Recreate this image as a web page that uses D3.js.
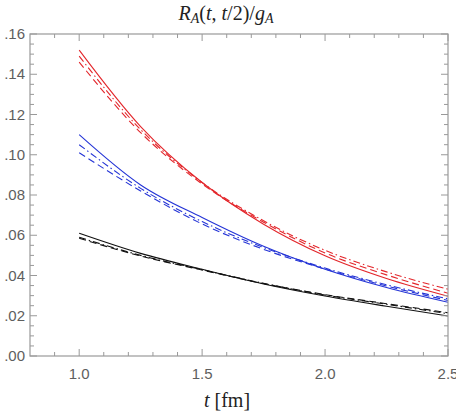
<!DOCTYPE html>
<html>
<head>
<meta charset="utf-8">
<style>
body { margin: 0; background: #fff; }
.tick-label { font-family: "Liberation Sans", Arial, sans-serif; font-size: 15px; fill: #5e5e5e; }
.serif { font-family: "Liberation Serif", "Times New Roman", serif; font-size: 20px; fill: #222; }
</style>
</head>
<body>
<svg width="456" height="412"></svg>
<script src="https://d3js.org/d3.v7.min.js"></script>
<script>
// sample times (fm)
var tVals = [1.0, 1.25, 1.5, 1.75, 2.0, 2.25, 2.5];

var redSolid   = [0.152, 0.114, 0.0862, 0.0655, 0.0498, 0.0385, 0.0297];
var redDashed  = [0.146, 0.111, 0.0855, 0.0665, 0.0512, 0.0403, 0.0312];
var redDotDash = [0.149, 0.1125, 0.0862, 0.0672, 0.0525, 0.0418, 0.0332];

var blueSolid   = [0.110, 0.0850, 0.0688, 0.0545, 0.0431, 0.0340, 0.0267];
var blueDashed  = [0.101, 0.0820, 0.0656, 0.0530, 0.0432, 0.0348, 0.0276];
var blueDotDash = [0.105, 0.0833, 0.0668, 0.0539, 0.0437, 0.0354, 0.0284];

var blackSolid   = [0.0610, 0.0510, 0.0431, 0.0358, 0.0298, 0.0247, 0.0199];
var blackDashed  = [0.0585, 0.0497, 0.0427, 0.0360, 0.0305, 0.0260, 0.0215];
var blackDotDash = [0.0590, 0.0500, 0.0429, 0.0361, 0.0303, 0.0257, 0.0210];

var xTickLabels = ["1.0", "1.5", "2.0", "2.5"];
var yTickLabels = [".00", ".02", ".04", ".06", ".08", ".10", ".12", ".14", ".16"];

var svg = d3.select("svg");
var pLeft = 30, pRight = 448, pTop = 34, pBottom = 356;

var x = d3.scaleLinear().domain([0.8, 2.5]).range([pLeft, pRight]);
var y = d3.scaleLinear().domain([0, 0.16]).range([pBottom, pTop]);

var red = "#e3262b", blue = "#2434d6", black = "#111";

var series = [
  {v: redSolid, c: red, dash: null},
  {v: redDashed, c: red, dash: "7,4"},
  {v: redDotDash, c: red, dash: "7,3,1.5,3"},
  {v: blueSolid, c: blue, dash: null},
  {v: blueDashed, c: blue, dash: "7,4"},
  {v: blueDotDash, c: blue, dash: "7,3,1.5,3"},
  {v: blackSolid, c: black, dash: null},
  {v: blackDashed, c: black, dash: "7,4"},
  {v: blackDotDash, c: black, dash: "7,3,1.5,3"}
];

svg.append("defs").append("clipPath").attr("id", "clip")
  .append("rect").attr("x", pLeft).attr("y", pTop).attr("width", pRight - pLeft).attr("height", pBottom - pTop);

var line = d3.line()
  .x(function(d) { return x(d[0]); })
  .y(function(d) { return y(d[1]); })
  .curve(d3.curveMonotoneX);

svg.append("g").attr("clip-path", "url(#clip)")
  .selectAll("path").data(series).enter().append("path")
    .attr("d", function(s) { return line(tVals.map(function(t, i) { return [t, s.v[i]]; })); })
    .attr("fill", "none")
    .attr("stroke", function(s) { return s.c; })
    .attr("stroke-width", 1.1)
    .attr("stroke-dasharray", function(s) { return s.dash; });

// ticks on all four sides, inward
var xMinor = d3.range(9, 26).map(function(i) { return i / 10; });
var yMinor = d3.range(0, 33).map(function(i) { return i * 0.005; });
var tickColor = "#999";

function isMajorX(v) { return Math.abs(v * 2 - Math.round(v * 2)) < 1e-6; }
function isMajorY(v) { return Math.abs(v / 0.02 - Math.round(v / 0.02)) < 1e-6; }

var tg = svg.append("g").attr("stroke", tickColor).attr("stroke-width", 1);
xMinor.forEach(function(v) {
  var len = isMajorX(v) ? 7 : 4;
  tg.append("line").attr("x1", x(v)).attr("x2", x(v)).attr("y1", pBottom).attr("y2", pBottom - len);
  tg.append("line").attr("x1", x(v)).attr("x2", x(v)).attr("y1", pTop).attr("y2", pTop + len);
});
yMinor.forEach(function(v) {
  var len = isMajorY(v) ? 7 : 4;
  tg.append("line").attr("x1", pLeft).attr("x2", pLeft + len).attr("y1", y(v)).attr("y2", y(v));
  tg.append("line").attr("x1", pRight).attr("x2", pRight - len).attr("y1", y(v)).attr("y2", y(v));
});

svg.append("rect")
  .attr("x", pLeft).attr("y", pTop).attr("width", pRight - pLeft).attr("height", pBottom - pTop)
  .attr("fill", "none").attr("stroke", tickColor).attr("stroke-width", 1.2);

// tick labels
svg.selectAll(".xl").data(xTickLabels).enter().append("text")
  .attr("class", "tick-label")
  .attr("x", function(d) { return x(+d); })
  .attr("y", 379)
  .attr("text-anchor", "middle")
  .text(function(d) { return d; });

svg.selectAll(".yl").data(yTickLabels).enter().append("text")
  .attr("class", "tick-label")
  .attr("x", 25)
  .attr("y", function(d) { return y(+("0" + d)) + 5; })
  .attr("text-anchor", "end")
  .text(function(d) { return d; });

// title: R_A(t, t/2)/g_A
var title = svg.append("text").attr("class", "serif").attr("x", 226).attr("y", 20).attr("text-anchor", "middle");
title.append("tspan").style("font-style", "italic").text("R");
title.append("tspan").style("font-style", "italic").style("font-size", "14px").attr("dy", 3).text("A");
title.append("tspan").attr("dy", -3).text("(");
title.append("tspan").style("font-style", "italic").text("t");
title.append("tspan").text(", ");
title.append("tspan").style("font-style", "italic").text("t");
title.append("tspan").text("/2)/");
title.append("tspan").style("font-style", "italic").text("g");
title.append("tspan").style("font-style", "italic").style("font-size", "14px").attr("dy", 3).text("A");

// x axis label
var xl = svg.append("text").attr("class", "serif").attr("x", 227).attr("y", 407).attr("text-anchor", "middle");
xl.append("tspan").style("font-style", "italic").text("t");
xl.append("tspan").text(" [fm]");
</script>
</body>
</html>
